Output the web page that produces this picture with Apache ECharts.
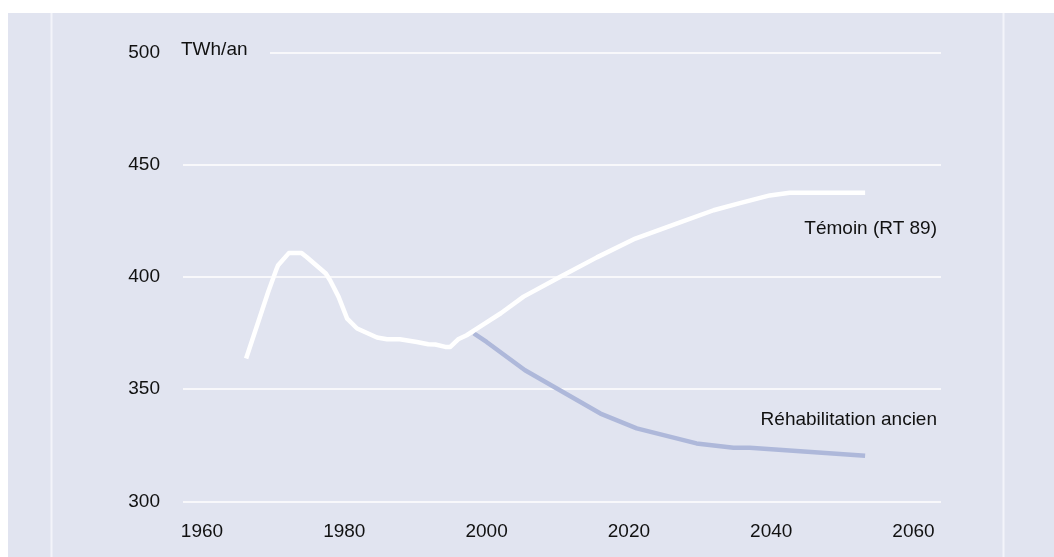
<!DOCTYPE html>
<html>
<head>
<meta charset="utf-8">
<style>
  html, body { margin: 0; padding: 0; background: #ffffff; }
  #chart { width: 1054px; height: 557px; }
</style>
<script src="https://cdn.jsdelivr.net/npm/echarts@6/dist/echarts.min.js"></script>
</head>
<body>
<div id="chart"></div>
<script>
// ---- Data ----
const xTicks = [1960, 1980, 2000, 2020, 2040, 2060];
const yTicks = [300, 350, 400, 450, 500];
const unitLabel = 'TWh/an';

const temoinName = 'Témoin (RT 89)';
const temoinYears = [1966.2, 1969.3, 1970.5, 1970.7, 1972.2, 1974.0, 1974.7, 1977.4, 1978.0, 1979.2,
  1980.4, 1981.8, 1984.6, 1986.0, 1987.8, 1990.2, 1991.8, 1992.8, 1994.2, 1994.9,
  1996.0, 1997.2, 1999.4, 2002.0, 2005.2, 2010.3, 2015.5, 2020.9, 2026.7, 2031.9,
  2035.6, 2039.8, 2042.6, 2053.2];
const temoinValues = [363.6, 393.3, 403.7, 405.2, 410.6, 410.6, 408.9, 401.5, 398.5, 391.1,
  381.4, 377.0, 373.0, 372.2, 372.2, 371.0, 370.0, 369.9, 368.8, 368.8,
  372.2, 374.0, 378.5, 383.8, 391.2, 400.0, 408.7, 417.1, 423.7, 429.7,
  432.9, 436.3, 437.5, 437.5];

const rehabName = 'Réhabilitation ancien';
const rehabYears = [1998.2, 2000.0, 2005.4, 2010.3, 2016.0, 2021.1, 2029.5, 2034.7, 2037.0, 2053.2];
const rehabValues = [374.8, 371.0, 358.4, 349.5, 339.1, 332.5, 325.8, 323.9, 323.9, 320.3];

// ---- Styles ----
const panelColor = '#e1e4f0';
const blueColor = '#aeb8da';
const textColor = '#111111';
const fontFamily = '"Liberation Sans", Arial, Helvetica, sans-serif';
const fontSize = 19;

const pair = (xs, ys) => xs.map((x, i) => [x, ys[i]]);

const chart = echarts.init(document.getElementById('chart'), null, { renderer: 'canvas' });

const gridTop = 52.5, gridBottom = 55.7;

const option = {
  animation: false,
  backgroundColor: '#ffffff',
  textStyle: { fontFamily: fontFamily },
  graphic: [
    { type: 'rect', z: -10, silent: true,
      shape: { x: 8, y: 13, width: 1046, height: 544 },
      style: { fill: panelColor } },
    { type: 'rect', z: -9, silent: true,
      shape: { x: 50.5, y: 13, width: 2, height: 544 },
      style: { fill: '#f3f4fa' } },
    { type: 'rect', z: -9, silent: true,
      shape: { x: 1002.5, y: 13, width: 2, height: 544 },
      style: { fill: '#f3f4fa' } },
    // gap in the top grid line behind the unit label
    { type: 'rect', z: 50, silent: true,
      shape: { x: 176, y: 48, width: 94, height: 10 },
      style: { fill: panelColor } },
    { type: 'text', z: 51, silent: true,
      left: 181, top: 40,
      style: { text: unitLabel, fill: textColor, font: fontSize + 'px ' + fontFamily } },
    { type: 'text', z: 51, silent: true,
      right: 1054 - 937, top: 219,
      style: { text: temoinName, fill: textColor, font: fontSize + 'px ' + fontFamily, textAlign: 'right' } },
    { type: 'text', z: 51, silent: true,
      right: 1054 - 937, top: 410,
      style: { text: rehabName, fill: textColor, font: fontSize + 'px ' + fontFamily, textAlign: 'right' } }
  ],
  grid: [
    { left: 202, right: 140.5, top: gridTop, bottom: gridBottom, containLabel: false },
    { left: 183, right: 113, top: gridTop, bottom: gridBottom, containLabel: false }
  ],
  xAxis: [
    { type: 'value', gridIndex: 0, min: xTicks[0], max: xTicks[xTicks.length - 1], interval: 20,
      axisLine: { show: false }, axisTick: { show: false }, splitLine: { show: false },
      axisLabel: { color: textColor, fontSize: fontSize, fontFamily: fontFamily, margin: 21,
        formatter: (v) => String(v) } },
    { type: 'value', gridIndex: 1, min: 0, max: 1, show: false }
  ],
  yAxis: [
    { type: 'value', gridIndex: 0, min: yTicks[0], max: yTicks[yTicks.length - 1], interval: 50,
      show: false },
    { type: 'value', gridIndex: 1, min: yTicks[0], max: yTicks[yTicks.length - 1], interval: 50,
      axisLine: { show: false }, axisTick: { show: false },
      splitLine: { show: true, lineStyle: { color: '#ffffff', width: 1.5 } },
      axisLabel: { color: textColor, fontSize: fontSize, fontFamily: fontFamily, margin: 23,
        padding: [0, 0, 7, 0], formatter: (v) => String(v) } }
  ],
  series: [
    { type: 'line', name: temoinName, xAxisIndex: 0, yAxisIndex: 0,
      data: pair(temoinYears, temoinValues), showSymbol: false, clip: false, z: 5,
      lineStyle: { color: '#ffffff', width: 4.5, join: 'round', cap: 'butt' } },
    { type: 'line', name: rehabName, xAxisIndex: 0, yAxisIndex: 0,
      data: pair(rehabYears, rehabValues), showSymbol: false, clip: false, z: 4,
      lineStyle: { color: blueColor, width: 4.5, join: 'round', cap: 'butt' } }
  ]
};

chart.setOption(option);
</script>
</body>
</html>
